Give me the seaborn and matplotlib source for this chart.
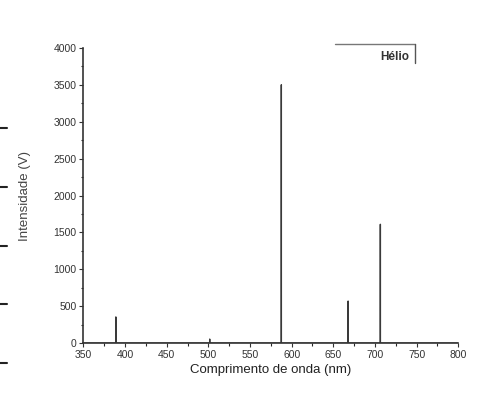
import numpy as np
import pandas as pd
import matplotlib
matplotlib.use("Agg")
import matplotlib.pyplot as plt
import seaborn as sns
from matplotlib.lines import Line2D

# Data: helium emission lines
wavelengths = [388.9, 501.6, 587.6, 667.8, 706.5]
intensities = [355, 55, 3500, 570, 1610]
x_ticks = [350, 400, 450, 500, 550, 600, 650, 700, 750, 800]
y_ticks = [0, 500, 1000, 1500, 2000, 2500, 3000, 3500, 4000]
series_label = "Hélio"

# build stick spectrum table
rows = [(350.0, 0.0)]
for w, i in zip(wavelengths, intensities):
    rows += [(w - 0.05, 0.0), (w, float(i)), (w + 0.05, 0.0)]
rows.append((800.0, 0.0))
df = pd.DataFrame(rows, columns=["wl", "I"])

sns.set_theme(style="white")
plt.rcParams['font.family'] = ['Liberation Sans', 'DejaVu Sans']

fig = plt.figure(figsize=(4.88, 3.99), dpi=100)
ax = fig.add_axes([0.171, 0.140, 0.768, 0.740])

sns.lineplot(data=df, x="wl", y="I", ax=ax, color="#3a3a3a", linewidth=1.0,
             estimator=None, sort=False)

ax.set_xlim(350, 800)
ax.set_ylim(0, 4000)
ax.set_xticks(x_ticks)
ax.set_yticks(y_ticks)
ax.set_xticks(np.arange(375, 800, 50), minor=True)
ax.set_yticks(np.arange(250, 4000, 500), minor=True)
ax.tick_params(axis="both", which="major", direction="out", length=3, width=0.8,
               labelsize=7.5, colors="#333333", pad=2, bottom=True, left=True)
ax.tick_params(axis="both", which="minor", direction="out", length=1.8, width=0.8,
               bottom=True, left=True)
for s in ["top", "right"]:
    ax.spines[s].set_visible(False)
for s in ["left", "bottom"]:
    ax.spines[s].set_color("#333333")
    ax.spines[s].set_linewidth(1.2)

ax.set_xlabel("Comprimento de onda (nm)", fontsize=9.5, color="#222222", labelpad=3)
ax.set_ylabel("Intensidade (V)", fontsize=9.5, color="#444444", labelpad=16)

# partial legend frame
ax.add_line(Line2D([0.672, 0.885], [1.0136, 1.0136], transform=ax.transAxes,
                   color="#777777", linewidth=1.0, clip_on=False))
ax.add_line(Line2D([0.885, 0.885], [1.0136, 0.949], transform=ax.transAxes,
                   color="#555555", linewidth=1.0, clip_on=False))
ax.text(0.868, 0.969, series_label, transform=ax.transAxes, ha="right", va="center",
        fontsize=8.5, color="#333333", fontweight="bold")

# left-edge crop artifacts
for yp in [128, 187, 246, 304, 363]:
    fig.add_artist(Line2D([0.0, 7 / 488], [1 - yp / 399, 1 - yp / 399],
                          transform=fig.transFigure, color="#222222", linewidth=1.5))

fig.savefig("out.png", dpi=100)
